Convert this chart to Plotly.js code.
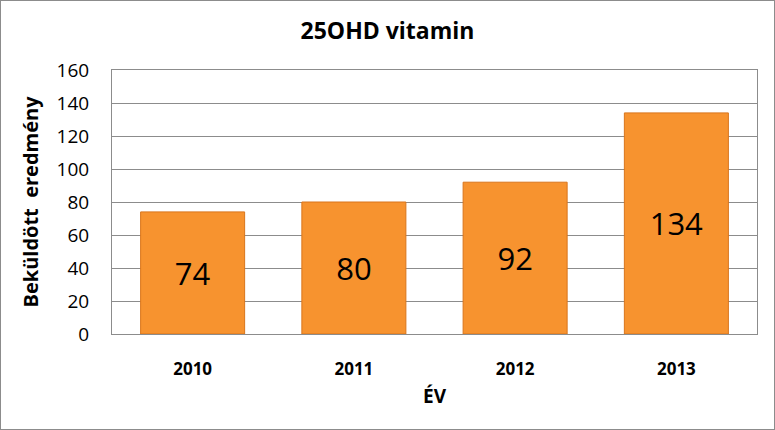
<!DOCTYPE html>
<html>
<head>
<meta charset="utf-8">
<script src="https://cdn.plot.ly/plotly-3.0.1.min.js"></script>
<style>
  body { margin: 0; }
  #chart { width: 773px; height: 428px; border: 1px solid #8c8c8c; }
</style>
</head>
<body>
<div id="chart"></div>
<script>
var years = ['2010', '2011', '2012', '2013'];
var counts = [74, 80, 92, 134];

var trace1 = {
  type: 'bar',
  x: years,
  y: counts,
  text: counts.map(String),
  textposition: 'inside',
  insidetextanchor: 'middle',
  textfont: { family: 'Open Sans', size: 31, color: '#000' },
  marker: {
    color: '#F7932F',
    line: { color: '#D9751C', width: 1 }
  },
  width: 0.645,
  hoverinfo: 'x+y'
};

var layout = {
  title: {
    text: '<b>25OHD vitamin</b>',
    font: { family: 'Open Sans', size: 23, color: '#000' },
    x: 0.5,
    y: 0.93,
    yanchor: 'middle'
  },
  xaxis: {
    type: 'category',
    title: { text: '<b>ÉV</b>', font: { family: 'Open Sans', size: 19, color: '#000' }, standoff: 10 },
    tickfont: { family: 'Open Sans', size: 17, color: '#000' },
    tickprefix: '<b>',
    ticksuffix: '</b>',
    showline: true,
    mirror: true,
    linecolor: '#8c8c8c',
    ticks: 'outside',
    ticklen: 20,
    tickcolor: '#fff'
  },
  yaxis: {
    title: { text: '<b>Beküldött  eredmény</b>', font: { family: 'Open Sans', size: 20, color: '#000' }, standoff: 12 },
    range: [0, 160],
    dtick: 20,
    tickfont: { family: 'Open Sans', size: 19, color: '#000' },
    gridcolor: '#8c8c8c',
    showline: true,
    mirror: true,
    linecolor: '#8c8c8c',
    zeroline: false,
    ticks: 'outside',
    ticklen: 18,
    tickcolor: '#fff'
  },
  showlegend: false,
  plot_bgcolor: '#fff',
  paper_bgcolor: '#fff',
  margin: { l: 111, r: 17, t: 69, b: 95 }
};

Plotly.newPlot('chart', [trace1], layout, { displayModeBar: false });
</script>
</body>
</html>
